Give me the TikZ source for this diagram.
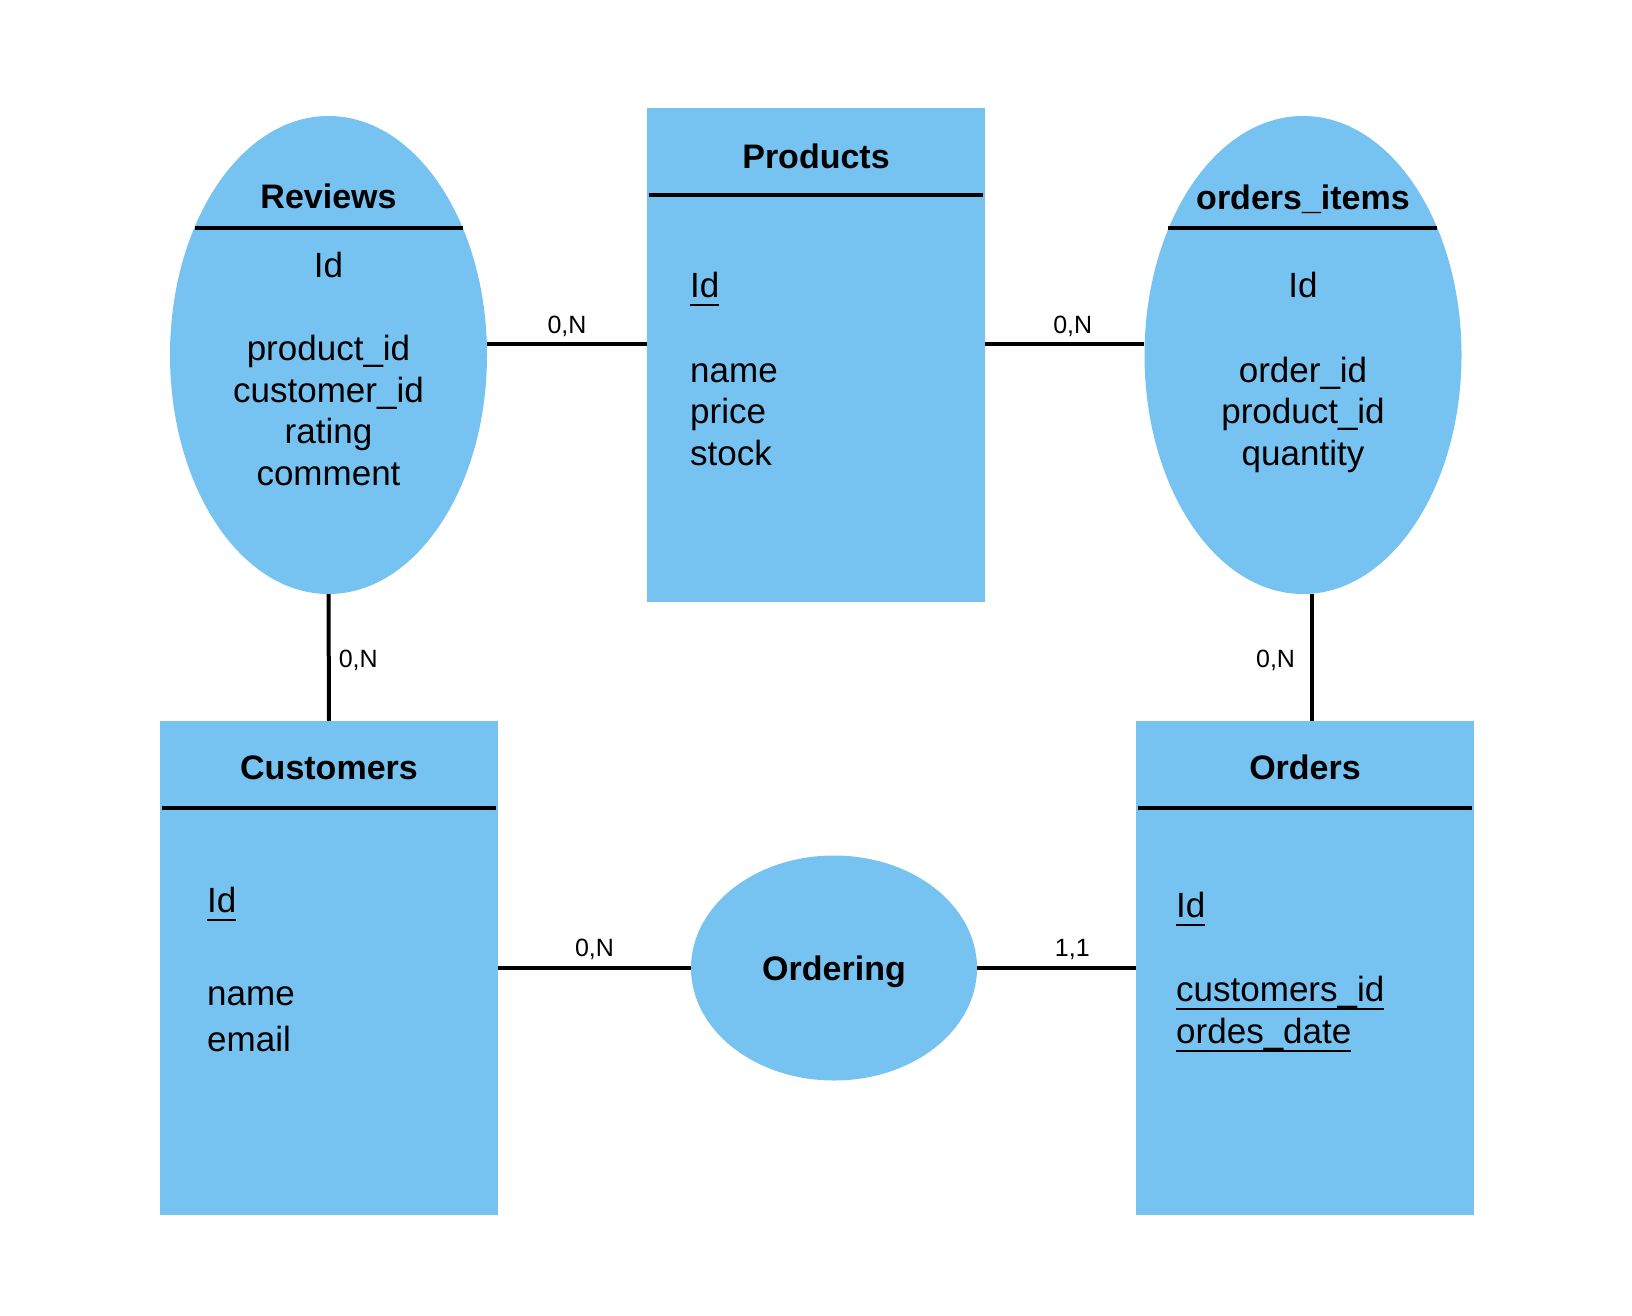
\documentclass[tikz,border=0pt]{standalone}
\usepackage{fontspec}
\setmainfont{Liberation Sans}
\usetikzlibrary{shapes.geometric,positioning}
\definecolor{erblue}{RGB}{118,194,241}
\newsavebox\pkbox
\newcommand{\pkey}[1]{\sbox\pkbox{#1}\rlap{\rule[-9pt]{\wd\pkbox}{2.5pt}}\usebox\pkbox}
\tikzset{
  entity/.style={
    % The shape:
    rectangle,minimum width=338pt,minimum height=494pt,inner sep=0pt,
    % The filling:
    fill=erblue}}
\tikzset{
  weak/.style={
    % The shape:
    ellipse,minimum width=317pt,minimum height=478pt,inner sep=0pt,
    % The filling:
    fill=erblue}}
\tikzset{
  relation/.style={
    ellipse,minimum width=286pt,minimum height=225pt,inner sep=0pt,
    fill=erblue,text depth=0pt,
    font=\bfseries\fontsize{34}{40}\selectfont}}
\tikzset{
  title/.style={anchor=base,inner sep=0pt,font=\bfseries\fontsize{34}{40}\selectfont},
  attr/.style={anchor=base,inner sep=0pt,font=\fontsize{35}{42}\selectfont},
  attrl/.style={attr,anchor=base west},
  card/.style={anchor=base,inner sep=0pt,font=\fontsize{25}{30}\selectfont},
  link/.style={line width=4pt},
  bar/.style={line width=4pt}}

\begin{document}
\begin{tikzpicture}[x=1pt,y=-1pt]
	\fill[white] (0,0) rectangle (1632,1316);
	% Shapes
	\node[weak] (rev) at (328.5,355) {};
	\node[entity] (prod) at (816,355) {};
	\node[weak] (items) at (1303,355) {};
	\node[entity] (cust) at (329,968) {};
	\node[relation] (ordg) at (834,968) {Ordering};
	\node[entity] (ord) at (1305,968) {};
	% Titles and bars
	\node[title] (rev-t) at (328.5,208) {Reviews};
	\node[title] (prod-t) at (816,169) {Products};
	\node[title] (items-t) at (1303,209) {orders\_items};
	\node[title] (cust-t) at (329,779) {Customers};
	\node[title] (ord-t) at (1305,779) {Orders};
	\draw[bar] ([xshift=-134pt,yshift=127pt]rev.center) -- ([xshift=134pt,yshift=127pt]rev.center);
	\draw[bar] ([xshift=-135pt,yshift=127pt]items.center) -- ([xshift=134pt,yshift=127pt]items.center);
	\draw[bar] ([xshift=2pt,yshift=-87pt]prod.north west) -- ([xshift=-2pt,yshift=-87pt]prod.north east);
	\draw[bar] ([xshift=2pt,yshift=-87pt]cust.north west) -- ([xshift=-2pt,yshift=-87pt]cust.north east);
	\draw[bar] ([xshift=2pt,yshift=-87pt]ord.north west) -- ([xshift=-2pt,yshift=-87pt]ord.north east);
	% Attributes of Reviews
	\node[attr] (rev-id) at (328.5,277) {Id};
	\node[attr] (rev-pid) at ([yshift=-83pt]rev-id.base) {product\_id};
	\node[attr] (rev-cid) at ([yshift=-42pt]rev-pid.base) {customer\_id};
	\node[attr] (rev-rate) at ([yshift=-41pt]rev-cid.base) {rating};
	\node[attr] (rev-com) at ([yshift=-42pt]rev-rate.base) {comment};
	% Attributes of Products
	\node[attrl] (prod-id) at (690,297) {\pkey{Id}};
	\node[attrl] (prod-name) at ([yshift=-85pt]prod-id.base west) {name};
	\node[attrl] (prod-price) at ([yshift=-41pt]prod-name.base west) {price};
	\node[attrl] (prod-stock) at ([yshift=-42pt]prod-price.base west) {stock};
	% Attributes of orders_items
	\node[attr] (items-id) at (1303,297) {Id};
	\node[attr] (items-oid) at ([yshift=-85pt]items-id.base) {order\_id};
	\node[attr] (items-pid) at ([yshift=-41pt]items-oid.base) {product\_id};
	\node[attr] (items-qty) at ([yshift=-42pt]items-pid.base) {quantity};
	% Attributes of Customers
	\node[attrl] (cust-id) at (207,912) {\pkey{Id}};
	\node[attrl] (cust-name) at ([yshift=-93pt]cust-id.base west) {name};
	\node[attrl] (cust-mail) at ([yshift=-46pt]cust-name.base west) {email};
	% Attributes of Orders
	\node[attrl] (ord-id) at (1176,917) {\pkey{Id}};
	\node[attrl] (ord-cid) at ([yshift=-84pt]ord-id.base west) {\pkey{customers\_id}};
	\node[attrl] (ord-date) at ([yshift=-42pt]ord-cid.base west) {\pkey{ordes\_date}};
	% Lines out of Products
	\draw[link] ([yshift=11pt]rev.east) -- ([yshift=11pt]prod.west) node[card,midway,yshift=11pt] (rp-card) {0,N};
	\draw[link] ([yshift=11pt]prod.east) -- ([yshift=11pt]items.west) node[card,pos=0.55,yshift=11pt] (pi-card) {0,N};
	% Lines out of Ordering
	\draw[link] (cust.east) -- (ordg.west) node[card,midway,yshift=12pt] (co-card) {0,N};
	\draw[link] (ordg.east) -- (ord.west) node[card,pos=0.6,yshift=12pt] (oo-card) {1,1};
	% Lines down to Customers and Orders
	\draw[link] (rev.south) -- (cust.north) node[card,midway,anchor=base west,xshift=8pt,yshift=-10pt] (rc-card) {0,N};
	\draw[link] ([xshift=9pt]items.south) -- ([xshift=7pt]ord.north) node[card,midway,anchor=base east,xshift=-15pt,yshift=-10pt] (io-card) {0,N};
\end{tikzpicture}
\end{document}
